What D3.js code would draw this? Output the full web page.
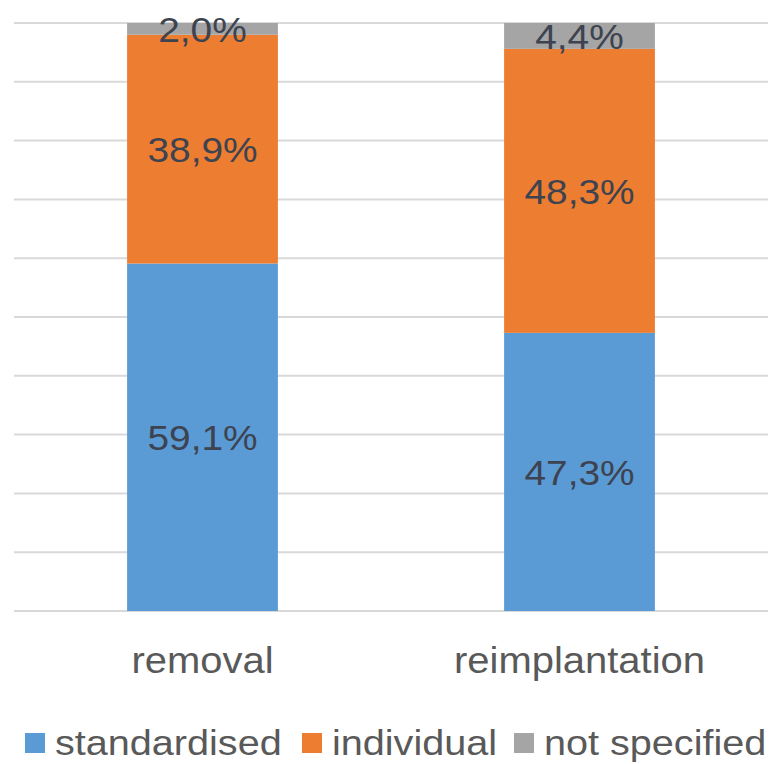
<!DOCTYPE html>
<html>
<head>
<meta charset="utf-8">
<script src="https://cdn.jsdelivr.net/npm/d3@7"></script>
<style>
  html, body { margin: 0; padding: 0; background: #fff; }
  svg { display: block; font-family: "Liberation Sans", Arial, sans-serif; }
</style>
</head>
<body>
<svg id="chart" width="772" height="764"></svg>
<script>
// Categories and stacked shares (percent)
const categories = ["removal", "reimplantation"];
const seriesNames = ["standardised", "individual", "not specified"];
const standardised = [59.1, 47.3];
const individual = [38.9, 48.3];
const notSpecified = [2.0, 4.4];
const valueLabels = [["59,1%", "47,3%"], ["38,9%", "48,3%"], ["2,0%", "4,4%"]];
const yTicks = [0, 10, 20, 30, 40, 50, 60, 70, 80, 90, 100];
const colors = ["#5B9BD5", "#ED7D31", "#A5A5A5"];

const svg = d3.select("#chart");
const plotLeft = 14, plotRight = 768, plotTop = 23, plotBottom = 611;

const x = d3.scaleBand().domain(categories).range([plotLeft, plotRight])
  .paddingInner(0.6).paddingOuter(0.3);
const y = d3.scaleLinear().domain([0, 100]).range([plotBottom, plotTop]);

// Horizontal gridlines
svg.append("g").selectAll("line").data(yTicks).join("line")
  .attr("x1", plotLeft).attr("x2", plotRight)
  .attr("y1", d => y(d)).attr("y2", d => y(d))
  .attr("stroke", "#D9D9D9").attr("stroke-width", 2);

const rows = categories.map((c, i) => ({
  cat: c, standardised: standardised[i], individual: individual[i], "not specified": notSpecified[i]
}));
const stacked = d3.stack().keys(seriesNames)(rows);

// Stacked bars
const layers = svg.append("g").selectAll("g").data(stacked).join("g")
  .attr("fill", (d, i) => colors[i]);
layers.selectAll("rect").data(d => d).join("rect")
  .attr("x", d => x(d.data.cat))
  .attr("width", x.bandwidth())
  .attr("y", d => y(d[1]))
  .attr("height", d => y(d[0]) - y(d[1]));

// Helper: slightly wide text
function wideText(g, tx, ty, str, size, color) {
  g.append("text")
    .attr("transform", `translate(${tx},${ty}) scale(1.08,1)`)
    .attr("text-anchor", "middle")
    .attr("font-size", size)
    .attr("fill", color)
    .text(str);
}

// Value labels centred in each segment
const lab = svg.append("g");
stacked.forEach((layer, si) => {
  layer.forEach((d, ci) => {
    const cx = x(d.data.cat) + x.bandwidth() / 2;
    const cy = (y(d[0]) + y(d[1])) / 2;
    wideText(lab, cx, cy + 0.358 * 36, valueLabels[si][ci], 36, "#3d4350");
  });
});

// Category labels
const axisG = svg.append("g");
categories.forEach(c => {
  wideText(axisG, x(c) + x.bandwidth() / 2, 673, c, 37, "#595959");
});

// Legend
const legend = svg.append("g");
const legendItems = [
  { name: seriesNames[0], sx: 25 },
  { name: seriesNames[1], sx: 302 },
  { name: seriesNames[2], sx: 514 }
];
legendItems.forEach((it, i) => {
  legend.append("rect").attr("x", it.sx).attr("y", 733).attr("width", 20).attr("height", 20)
    .attr("fill", colors[i]);
  legend.append("text")
    .attr("transform", `translate(${it.sx + 30},755) scale(1.1,1)`)
    .attr("font-size", 36).attr("fill", "#595959")
    .text(it.name);
});
</script>
</body>
</html>
